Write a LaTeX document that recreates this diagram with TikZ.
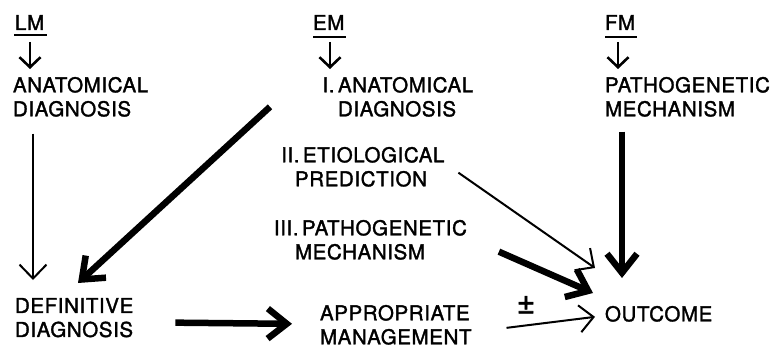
\documentclass[tikz,border=0pt]{standalone}
\usepackage{fontspec}
\setmainfont[LetterSpace=3,FakeBold=1.6]{TeX Gyre Heros}
\usetikzlibrary{arrows.meta,calc}
\tikzset{
  txt/.style={anchor=north west,inner sep=0pt,outer sep=0pt,align=left,
    font=\fontsize{20.5}{24}\selectfont},
  head/.style={txt},
  thin/.style={line width=2pt,-{Straight Barb[length=14pt,width=27pt]}},
  small/.style={line width=2.6pt,-{Straight Barb[length=10pt,width=21pt]}},
  thick/.style={line width=6.5pt,-{Straight Barb[length=19pt,width=30pt]}},
  uline/.style={line width=2.6pt}
}
\begin{document}
\begin{tikzpicture}[x=1pt,y=-1pt]
\useasboundingbox (0,0) rectangle (777,349);
% headers
\node[head] (lm) at (15,15) {LM};
\node[head] (em) at (313,15) {EM};
\node[head] (fm) at (605,15) {FM};
\draw[uline] ($(lm.south west)+(-1,5)$) -- ($(lm.south east)+(3,5)$);
\draw[uline] ($(em.south west)+(0,7)$) -- ($(em.south east)+(2,7)$);
\draw[uline] ($(fm.south west)+(0,7)$) -- ($(fm.south east)+(2,7)$);
% boxes
\node[txt] (anat) at (13,77) {ANATOMICAL\\DIAGNOSIS};
\node[txt] (emA) at (338,77) {\llap{I.\,}ANATOMICAL\\DIAGNOSIS};
\node[txt] (path) at (605,77) {PATHOGENETIC\\MECHANISM};
\node[txt] (etio) at (303,147) {\llap{II.\,}ETIOLOGICAL\\\hspace*{-8pt}PREDICTION};
\node[txt] (pato) at (302,220) {\llap{III.\,}PATHOGENETIC\\\hspace*{-7pt}MECHANISM};
\node[txt] (defd) at (15,298) {DEFINITIVE\\DIAGNOSIS};
\node[txt] (appm) at (320,305) {APPROPRIATE\\MANAGEMENT};
\node[txt] (outc) at (605,306) {OUTCOME};
% small arrows
\draw[small] ($(lm.south west)+(15,12)$) -- ($(anat.north west)+(17,-8)$);
\draw[small] ($(em.south west)+(17,12)$) -- ($(emA.north west)+(-8,-8)$);
\draw[small] ($(fm.south west)+(13,12)$) -- ($(path.north west)+(13,-8)$);
% main arrows
\draw[thin] ($(anat.south west)+(20,17)$) -- ($(defd.north west)+(18,-18)$);
\draw[thick] ($(emA.west)+(-68,10)$) -- ($(defd.north west)+(63,-15)$);
\draw[thick] ($(defd.east)+(42,5)$) -- ($(appm.west)+(-28,-1)$);
\draw[thin] ($(appm.east)+(35,3)$) -- node[above=11pt,pos=0.22,inner sep=0pt,font=\fontsize{32}{32}\selectfont] (pm) {±} ($(outc.west)+(-10,3)$);
\draw[thin] ($(etio.south east)+(14,-14)$) -- ($(outc.north west)+(-10,-38)$);
\draw[thick] ($(pato.south east)+(32,-8)$) -- ($(outc.north west)+(-12,-13)$);
\draw[thick] ($(path.south west)+(17,15)$) -- ($(outc.north west)+(17,-28)$);
\end{tikzpicture}
\end{document}
